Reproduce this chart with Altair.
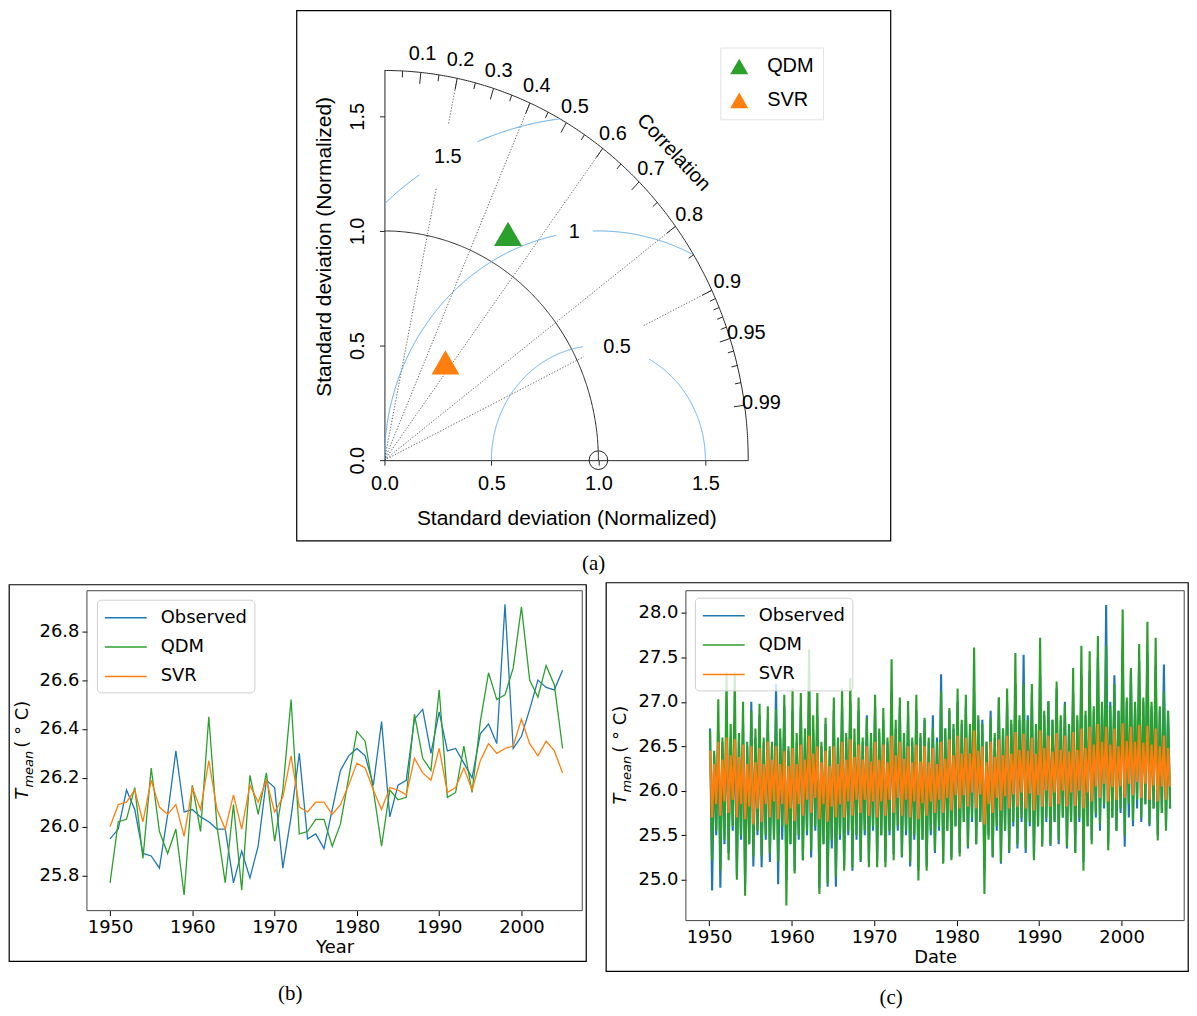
import numpy as np
import pandas as pd
import altair as alt

FONT_A = "Liberation Sans"
FONT_B = "DejaVu Sans"
FONT_CAP = "Liberation Serif"
BLUE, ORANGE, GREEN = "#1f77b4", "#ff7f0e", "#2ca02c"
INK = "#262626"
RMS_COLOR = "#5aa9e6"

# ---------------- (a) Taylor diagram values ----------------
taylor_models = ["QDM", "SVR"]
taylor_std = [1.144, 0.513]
taylor_corr = [0.505, 0.556]
taylor_colors = [GREEN, ORANGE]
corr_labels = [0.1, 0.2, 0.3, 0.4, 0.5, 0.6, 0.7, 0.8, 0.9, 0.95, 0.99]
corr_minor = [0.05, 0.15, 0.25, 0.35, 0.45, 0.55, 0.65, 0.75, 0.85,
              0.91, 0.92, 0.93, 0.94, 0.96, 0.97, 0.98]
corr_lines = [0.2, 0.4, 0.6, 0.8, 0.9]
std_arcs = [1.0, 1.7]
std_ticks = [0.0, 0.5, 1.0, 1.5]
rms_levels = [0.5, 1.0, 1.5]
rms_texts = ["0.5", "1", "1.5"]
rms_label_angle = [80.0, 96.5, 118.0]
rms_gap_px = [34, 18, 33]
SMAX = 1.7

# ---------------- (b) annual values ----------------
series_names = ["Observed", "QDM", "SVR"]
series_colors = [BLUE, GREEN, ORANGE]
years_b = list(range(1950, 2006))
obs_b = [25.95, 25.99, 26.15, 26.07, 25.89, 25.88, 25.83, 26.05, 26.31, 26.06,
         26.07, 26.04, 26.02, 25.99, 25.99, 25.77, 25.90, 25.79, 25.92, 26.19,
         26.16, 25.83, 26.04, 26.30, 25.95, 25.97, 25.91, 26.07, 26.23, 26.29,
         26.32, 26.29, 26.17, 26.43, 26.04, 26.17, 26.19, 26.44, 26.48, 26.30,
         26.47, 26.31, 26.32, 26.26, 26.20, 26.38, 26.42, 26.34, 26.91, 26.32,
         26.37, 26.48, 26.60, 26.57, 26.56, 26.64]
qdm_b = [25.77, 26.02, 26.03, 26.16, 25.87, 26.24, 25.98, 25.89, 25.99, 25.72,
         26.17, 25.98, 26.45, 26.00, 25.77, 26.09, 25.74, 26.21, 26.05, 26.22,
         25.94, 26.15, 26.52, 25.97, 25.98, 26.03, 26.03, 25.92, 26.01, 26.20,
         26.39, 26.35, 26.15, 25.92, 26.15, 26.11, 26.12, 26.46, 26.28, 26.23,
         26.56, 26.12, 26.14, 26.33, 26.14, 26.43, 26.63, 26.52, 26.54, 26.65,
         26.90, 26.60, 26.53, 26.66, 26.58, 26.32]
svr_b = [26.00, 26.09, 26.10, 26.15, 26.02, 26.19, 26.08, 26.05, 26.09, 25.96,
         26.16, 26.07, 26.27, 26.07, 25.99, 26.13, 25.99, 26.17, 26.10, 26.19,
         26.06, 26.12, 26.29, 26.08, 26.06, 26.10, 26.10, 26.05, 26.09, 26.17,
         26.26, 26.24, 26.15, 26.07, 26.16, 26.15, 26.13, 26.28, 26.22, 26.19,
         26.32, 26.14, 26.16, 26.24, 26.15, 26.27, 26.34, 26.30, 26.32, 26.33,
         26.44, 26.34, 26.29, 26.35, 26.31, 26.22]
year_ticks = [1950, 1960, 1970, 1980, 1990, 2000]
ticks_b = [25.8, 26.0, 26.2, 26.4, 26.6, 26.8]

# ---------------- (c) sub-annual values (4 readings per year) ----------------
years_c = list(range(1950, 2006))
obs_c = [
    26.70, 24.88, 26.40, 25.50,  26.65, 24.91, 26.55, 25.40,   # 1950-51
    26.90, 25.30, 26.60, 25.55,  26.80, 25.05, 26.55, 25.45,   # 1952-53
    26.75, 24.95, 26.50, 25.40,  27.00, 25.15, 26.60, 25.50,   # 1954-55
    26.85, 25.14, 26.55, 25.45,  26.80, 25.20, 26.50, 25.50,   # 1956-57
    27.20, 24.95, 26.60, 25.45,  26.95, 25.00, 26.45, 25.40,   # 1958-59
    26.90, 25.10, 26.55, 25.45,  26.95, 25.22, 26.60, 25.50,   # 1960-61
    27.10, 25.25, 26.70, 25.55,  26.85, 24.90, 26.50, 25.40,   # 1962-63
    26.75, 24.92, 26.45, 25.35,  26.90, 24.92, 26.55, 25.45,   # 1964-65
    26.95, 25.15, 26.60, 25.50,  27.00, 25.10, 26.55, 25.45,   # 1966-67
    26.90, 25.20, 26.55, 25.50,  26.85, 25.20, 26.60, 25.55,   # 1968-69
    26.95, 25.22, 26.65, 25.50,  26.80, 25.20, 26.55, 25.50,   # 1970-71
    27.10, 25.28, 26.70, 25.55,  26.95, 25.25, 26.60, 25.50,   # 1972-73
    26.85, 25.15, 26.55, 25.45,  26.90, 25.10, 26.60, 25.45,   # 1974-75
    26.80, 25.15, 26.55, 25.50,  26.85, 25.30, 26.60, 25.55,   # 1976-77
    27.31, 25.20, 26.70, 25.55,  26.90, 25.25, 26.70, 25.60,   # 1978-79
    27.00, 25.30, 26.75, 25.65,  26.95, 25.35, 26.70, 25.65,   # 1980-81
    27.10, 25.40, 26.80, 25.65,  26.80, 25.10, 26.55, 25.50,   # 1982-83
    26.90, 25.25, 26.60, 25.55,  27.05, 25.18, 26.70, 25.55,   # 1984-85
    27.00, 25.30, 26.75, 25.60,  27.20, 25.35, 26.80, 25.65,   # 1986-87
    27.53, 25.30, 26.85, 25.60,  27.10, 25.25, 26.75, 25.60,   # 1988-89
    27.30, 25.40, 26.85, 25.65,  27.00, 25.38, 26.80, 25.65,   # 1990-91
    27.15, 25.40, 26.80, 25.70,  27.00, 25.35, 26.75, 25.65,   # 1992-93
    27.10, 25.30, 26.80, 25.65,  27.30, 25.20, 26.85, 25.60,   # 1994-95
    27.35, 25.45, 26.90, 25.70,  27.50, 25.55, 26.95, 25.80,   # 1996-97
    28.09, 25.40, 27.00, 25.70,  27.30, 25.55, 26.90, 25.75,   # 1998-99
    27.60, 25.37, 27.00, 25.70,  27.35, 25.60, 26.95, 25.80,   # 2000-01
    27.45, 25.65, 27.00, 25.85,  27.55, 25.60, 26.95, 25.80,   # 2002-03
    27.40, 25.50, 26.90, 25.75,  27.42, 25.60, 26.90, 25.80,   # 2004-05
]
qdm_c = [
    26.67, 25.22, 26.45, 25.55,  27.03, 25.10, 26.60, 25.45,   # 1950-51
    27.33, 25.22, 26.75, 25.60,  27.33, 25.00, 26.65, 25.50,   # 1952-53
    27.00, 24.82, 26.55, 25.40,  26.90, 25.26, 26.70, 25.55,   # 1954-55
    26.98, 25.26, 26.60, 25.50,  26.95, 25.30, 26.55, 25.45,   # 1956-57
    26.92, 25.20, 26.70, 25.60,  27.08, 24.71, 26.50, 25.40,   # 1958-59
    27.15, 25.07, 26.65, 25.50,  27.10, 25.22, 26.70, 25.55,   # 1960-61
    27.59, 25.33, 26.85, 25.60,  27.10, 24.84, 26.55, 25.40,   # 1962-63
    26.82, 24.96, 26.50, 25.45,  27.05, 25.03, 26.60, 25.50,   # 1964-65
    27.15, 25.10, 26.65, 25.55,  27.27, 25.14, 26.70, 25.50,   # 1966-67
    27.05, 25.22, 26.60, 25.55,  26.82, 25.14, 26.65, 25.60,   # 1968-69
    27.08, 25.14, 26.70, 25.50,  26.93, 25.14, 26.60, 25.55,   # 1970-71
    27.48, 25.22, 26.80, 25.60,  27.05, 25.26, 26.65, 25.55,   # 1972-73
    27.01, 25.20, 26.60, 25.50,  27.08, 24.99, 26.65, 25.45,   # 1974-75
    26.82, 25.10, 26.60, 25.55,  26.71, 25.33, 26.55, 25.60,   # 1976-77
    27.12, 25.18, 26.70, 25.55,  26.93, 25.22, 26.75, 25.60,   # 1978-79
    27.15, 25.26, 26.80, 25.65,  27.08, 25.37, 26.75, 25.70,   # 1980-81
    27.61, 25.40, 26.85, 25.65,  26.75, 24.84, 26.55, 25.45,   # 1982-83
    26.82, 25.26, 26.65, 25.60,  27.05, 25.20, 26.70, 25.55,   # 1984-85
    27.15, 25.33, 26.80, 25.65,  27.55, 25.40, 26.85, 25.70,   # 1986-87
    27.20, 25.35, 26.80, 25.65,  27.20, 25.22, 26.75, 25.60,   # 1988-89
    27.72, 25.37, 26.90, 25.70,  27.01, 25.40, 26.80, 25.65,   # 1990-91
    27.23, 25.45, 26.85, 25.70,  26.97, 25.37, 26.75, 25.65,   # 1992-93
    27.38, 25.30, 26.85, 25.70,  27.63, 25.10, 26.90, 25.60,   # 1994-95
    27.57, 25.40, 26.95, 25.75,  27.74, 25.63, 27.00, 25.85,   # 1996-97
    27.63, 25.33, 26.95, 25.70,  27.20, 25.55, 26.90, 25.80,   # 1998-99
    28.04, 25.50, 27.05, 25.85,  27.38, 25.67, 27.00, 25.90,   # 2000-01
    27.65, 25.70, 27.05, 25.85,  27.90, 25.63, 27.00, 25.80,   # 2002-03
    27.72, 25.44, 26.95, 25.75,  27.12, 25.55, 26.90, 25.80,   # 2004-05
]
svr_c = [
    26.45, 25.70, 26.30, 25.85,  26.55, 25.72, 26.35, 25.88,   # 1950-51
    26.60, 25.75, 26.40, 25.90,  26.58, 25.70, 26.38, 25.85,   # 1952-53
    26.52, 25.68, 26.30, 25.82,  26.50, 25.62, 26.32, 25.80,   # 1954-55
    26.48, 25.65, 26.30, 25.85,  26.55, 25.70, 26.35, 25.88,   # 1956-57
    26.50, 25.68, 26.30, 25.85,  26.45, 25.62, 26.28, 25.80,   # 1958-59
    26.48, 25.66, 26.30, 25.85,  26.52, 25.72, 26.35, 25.90,   # 1960-61
    26.62, 25.75, 26.42, 25.92,  26.50, 25.68, 26.32, 25.85,   # 1962-63
    26.45, 25.65, 26.28, 25.82,  26.50, 25.70, 26.30, 25.85,   # 1964-65
    26.55, 25.70, 26.35, 25.88,  26.58, 25.72, 26.38, 25.90,   # 1966-67
    26.52, 25.75, 26.35, 25.90,  26.50, 25.72, 26.33, 25.88,   # 1968-69
    26.55, 25.70, 26.35, 25.88,  26.52, 25.72, 26.32, 25.90,   # 1970-71
    26.62, 25.75, 26.40, 25.92,  26.55, 25.72, 26.36, 25.90,   # 1972-73
    26.50, 25.70, 26.32, 25.88,  26.52, 25.68, 26.33, 25.86,   # 1974-75
    26.50, 25.72, 26.32, 25.88,  26.48, 25.75, 26.30, 25.90,   # 1976-77
    26.55, 25.75, 26.36, 25.92,  26.58, 25.78, 26.40, 25.95,   # 1978-79
    26.62, 25.80, 26.42, 25.95,  26.60, 25.82, 26.42, 25.98,   # 1980-81
    26.68, 25.80, 26.45, 25.96,  26.50, 25.62, 26.32, 25.85,   # 1982-83
    26.55, 25.75, 26.38, 25.92,  26.58, 25.78, 26.40, 25.94,   # 1984-85
    26.62, 25.80, 26.42, 25.96,  26.66, 25.82, 26.46, 25.98,   # 1986-87
    26.64, 25.80, 26.45, 25.97,  26.60, 25.78, 26.42, 25.95,   # 1988-89
    26.68, 25.82, 26.48, 26.00,  26.62, 25.82, 26.44, 25.98,   # 1990-91
    26.65, 25.85, 26.46, 26.00,  26.62, 25.82, 26.44, 25.98,   # 1992-93
    26.66, 25.83, 26.46, 26.00,  26.70, 25.80, 26.48, 25.98,   # 1994-95
    26.72, 25.88, 26.52, 26.05,  26.75, 25.92, 26.55, 26.08,   # 1996-97
    26.72, 25.88, 26.52, 26.04,  26.70, 25.90, 26.50, 26.05,   # 1998-99
    26.76, 25.92, 26.56, 26.08,  26.72, 25.95, 26.55, 26.10,   # 2000-01
    26.74, 25.92, 26.54, 26.08,  26.73, 25.90, 26.52, 26.06,   # 2002-03
    26.70, 25.88, 26.50, 26.05,  26.62, 25.90, 26.48, 26.05,   # 2004-05
]
ticks_c = [25.0, 25.5, 26.0, 26.5, 27.0, 27.5, 28.0]

# =====================================================================
# (a) Taylor diagram
# =====================================================================
WA, HA = 365, 391
SX, SY = WA / SMAX, HA / SMAX
lab_x = [1 + r * np.cos(np.radians(a)) for r, a in zip(rms_levels, rms_label_angle)]
lab_y = [r * np.sin(np.radians(a)) for r, a in zip(rms_levels, rms_label_angle)]


def runs(xs, ys, name):
    keep = np.ones(len(xs), bool)
    for lx, ly, g in zip(lab_x, lab_y, rms_gap_px):
        keep &= np.hypot((xs - lx) * SX, (ys - ly) * SY) > g
    rows, seg, prev = [], 0, False
    for i in range(len(xs)):
        if keep[i]:
            if not prev:
                seg += 1
            rows.append({"x": xs[i], "y": ys[i], "seg": f"{name}-{seg}", "o": i})
        prev = keep[i]
    return rows


arc_rows = []
for r in std_arcs:
    th = np.linspace(0, np.pi / 2, 300)
    for i, t in enumerate(th):
        arc_rows.append({"x": r * np.cos(t), "y": r * np.sin(t), "seg": f"arc{r}", "o": i})
arcs_df = pd.DataFrame(arc_rows)

rms_rows = []
for r in rms_levels:
    th = np.linspace(0, np.pi, 900)
    xs, ys = 1 + r * np.cos(th), r * np.sin(th)
    m = (xs >= 0) & (ys >= 0) & (xs ** 2 + ys ** 2 <= SMAX ** 2)
    rms_rows += runs(xs[m], ys[m], f"rms{r}")
rms_df = pd.DataFrame(rms_rows)

cl_rows = []
for c in corr_lines:
    rr = np.linspace(0, SMAX, 400)
    cl_rows += runs(rr * c, rr * np.sqrt(1 - c * c), f"c{c}")
cl_df = pd.DataFrame(cl_rows)

tick_rows = []
for c in corr_labels:
    tick_rows.append({"c": c, "L": 0.05})
for c in corr_minor:
    tick_rows.append({"c": c, "L": 0.028})
ticks_df = pd.DataFrame(tick_rows)
ticks_df["x"] = SMAX * ticks_df.c
ticks_df["y"] = SMAX * np.sqrt(1 - ticks_df.c ** 2)
ticks_df["x2"] = (SMAX - ticks_df.L) * ticks_df.c
ticks_df["y2"] = (SMAX - ticks_df.L) * np.sqrt(1 - ticks_df.c ** 2)

clab_df = pd.DataFrame({"c": corr_labels})
clab_df["x"] = 1.78 * clab_df.c
clab_df["y"] = 1.78 * np.sqrt(1 - clab_df.c ** 2)
clab_df["t"] = [f"{c:g}" for c in corr_labels]

rlab_df = pd.DataFrame({"x": lab_x, "y": lab_y, "t": rms_texts})

sc = alt.Scale(domain=[0, SMAX], nice=False, zero=False)
XA = alt.X("x:Q", scale=sc, axis=None)
YA = alt.Y("y:Q", scale=sc, axis=None)
one = pd.DataFrame({"a": [0]})

frame_a = alt.Chart(one).mark_rect(fillOpacity=0, stroke="black", strokeWidth=1.2).encode(
    x=alt.value(-88), x2=alt.value(WA + 143), y=alt.value(-60), y2=alt.value(HA + 81))

arcs_layer = alt.Chart(arcs_df).mark_line(color=INK, strokeWidth=1).encode(
    x=alt.X("x:Q", scale=sc, axis=alt.Axis(
        values=std_ticks, format=".1f", title="Standard deviation (Normalized)",
        labelFont=FONT_A, labelFontSize=20, labelColor="black", labelPadding=8,
        labelFlush=False, tickColor=INK, tickSize=5, domainColor=INK, grid=False,
        titleFont=FONT_A, titleFontSize=21, titleFontWeight="normal",
        titleColor="black", titlePadding=15)),
    y=alt.Y("y:Q", scale=sc, axis=alt.Axis(
        values=std_ticks, format=".1f", title="", labelAngle=270,
        labelAlign="center", labelBaseline="bottom", labelFlush=False,
        labelFont=FONT_A, labelFontSize=20, labelColor="black", labelPadding=12,
        tickColor=INK, tickSize=5, domainColor=INK, grid=False)),
    detail="seg:N", order="o:Q")

rms_layer = alt.Chart(rms_df).mark_line(color=RMS_COLOR, strokeWidth=1).encode(
    x=XA, y=YA, detail="seg:N", order="o:Q")
cl_layer = alt.Chart(cl_df).mark_line(color=INK, strokeWidth=0.8, strokeDash=[1.2, 1.8]).encode(
    x=XA, y=YA, detail="seg:N", order="o:Q")
ticks_layer = alt.Chart(ticks_df).mark_rule(color=INK, strokeWidth=1).encode(
    x=XA, y=YA, x2="x2:Q", y2="y2:Q")
clab_layer = alt.Chart(clab_df).mark_text(font=FONT_A, fontSize=20, color="black").encode(
    x=XA, y=YA, text="t:N")
corr_title = alt.Chart(pd.DataFrame({"x": [1.905 * np.cos(np.radians(44.8))],
                                     "y": [1.905 * np.sin(np.radians(44.8))]})).mark_text(
    text="Correlation", font=FONT_A, fontSize=20, angle=47, color="black").encode(x=XA, y=YA)
rlab_layer = alt.Chart(rlab_df).mark_text(font=FONT_A, fontSize=20, color="black").encode(
    x=XA, y=YA, text="t:N")
ref_pt = alt.Chart(pd.DataFrame({"x": [1.0], "y": [0.0]})).mark_point(
    shape="circle", size=350, filled=False, color=INK, strokeWidth=1, opacity=1).encode(x=XA, y=YA)
pts = alt.Chart(pd.DataFrame({"model": taylor_models, "std": taylor_std, "corr": taylor_corr})
                ).transform_calculate(
    x="datum.std * datum.corr", y="datum.std * sqrt(1 - datum.corr * datum.corr)"
).mark_point(shape="triangle-up", filled=True, size=784, opacity=1).encode(
    x=XA, y=YA,
    color=alt.Color("model:N", scale=alt.Scale(domain=taylor_models, range=taylor_colors),
                    legend=alt.Legend(orient="none", legendX=337, legendY=-23, title=None,
                                      symbolType="triangle-up", symbolSize=330,
                                      labelFont=FONT_A, labelFontSize=20, labelColor="black",
                                      labelOffset=18, rowPadding=14, padding=9,
                                      strokeColor="#e2e2e2", fillColor="white")))
ytitle_a = alt.Chart(one).mark_text(text="Standard deviation (Normalized)", font=FONT_A,
                                    fontSize=21, angle=270, color="black").encode(
    x=alt.value(-60), y=alt.value(177))
cap_a = alt.Chart(one).mark_text(text="(a)", font=FONT_CAP, fontSize=21, color="black").encode(
    x=alt.value(210), y=alt.value(495))

chart_a = alt.layer(frame_a, arcs_layer, cl_layer, rms_layer, ticks_layer, clab_layer,
                    corr_title, rlab_layer, ref_pt, pts, ytitle_a, cap_a).resolve_axis(
    x="independent", y="independent").properties(width=WA, height=HA)


# =====================================================================
# helpers for (b) and (c)
# =====================================================================
def tmean_title(xc, yc):
    y0 = yc + 49
    common = dict(font=FONT_B, angle=270, align="left", baseline="middle", color="black")
    t1 = alt.Chart(one).mark_text(text="T", fontSize=18, fontStyle="italic", **common).encode(
        x=alt.value(xc), y=alt.value(y0))
    t2 = alt.Chart(one).mark_text(text="mean", fontSize=13, fontStyle="italic", **common).encode(
        x=alt.value(xc + 6), y=alt.value(y0 - 12))
    t3 = alt.Chart(one).mark_text(text="( \u00b0 C)", fontSize=18, **common).encode(
        x=alt.value(xc), y=alt.value(y0 - 52))
    return [t1, t2, t3]


def ax(values, fmt, title):
    return alt.Axis(values=values, format=fmt, title=title, labelFont=FONT_B, labelFontSize=18,
                    labelColor="black", titleFont=FONT_B, titleFontSize=18,
                    titleFontWeight="normal", titleColor="black", tickColor="black",
                    tickSize=5, domain=False, grid=False, labelPadding=3, titlePadding=2,
                    labelFlush=False)


def line_legend(lx, ly):
    return alt.Legend(orient="none", legendX=lx, legendY=ly, title=None,
                      symbolType="M-1,0L3.2,0", symbolSize=400, symbolStrokeWidth=1.5,
                      labelFont=FONT_B, labelFontSize=18, labelColor="black", labelOffset=35,
                      rowPadding=9.5, padding=7, strokeColor="#cfcfcf",
                      fillColor="rgba(255,255,255,0.8)", cornerRadius=4)


color_enc = dict(scale=alt.Scale(domain=series_names, range=series_colors))

# =====================================================================
# (b) annual series
# =====================================================================
WB, HB = 497, 321
df_b = pd.DataFrame({"year": years_b * 3, "value": obs_b + qdm_b + svr_b,
                     "series": sum([[s] * len(years_b) for s in series_names], [])})
frame_b = alt.Chart(one).mark_rect(fillOpacity=0, stroke="black", strokeWidth=1.2).encode(
    x=alt.value(-78), x2=alt.value(WB + 4), y=alt.value(-6), y2=alt.value(HB + 51))
ext_b = alt.Chart(one).mark_rule(strokeOpacity=0).encode(
    y=alt.value(-13), x=alt.value(0), x2=alt.value(10))
box_b = alt.Chart(one).mark_rect(fillOpacity=0, stroke="#444", strokeWidth=1).encode(
    x=alt.value(0), x2=alt.value(WB), y=alt.value(0), y2=alt.value(HB))
lines_b = alt.Chart(df_b).mark_line(strokeWidth=1.3).encode(
    x=alt.X("year:Q", scale=alt.Scale(domain=[1947.19, 2007.39], nice=False, zero=False),
            axis=ax(year_ticks, "d", "Year")),
    y=alt.Y("value:Q", scale=alt.Scale(domain=[25.656, 26.966], nice=False, zero=False),
            axis=ax(ticks_b, ".1f", "")),
    color=alt.Color("series:N", legend=line_legend(10, 9), **color_enc),
    order="year:Q")
cap_b = alt.Chart(one).mark_text(text="(b)", font=FONT_CAP, fontSize=21, color="black").encode(
    x=alt.value(204), y=alt.value(405))
chart_b = alt.layer(frame_b, ext_b, lines_b, box_b, *tmean_title(-64, HB / 2), cap_b).properties(
    width=WB, height=HB)

# =====================================================================
# (c) sub-annual series
# =====================================================================
WC, HC = 500, 331
t_c = [y + (k + 0.5) / 4 for y in years_c for k in range(4)]
df_c = pd.DataFrame({"t": t_c * 3, "value": obs_c + qdm_c + svr_c,
                     "series": sum([[s] * len(t_c) for s in series_names], [])})
frame_c = alt.Chart(one).mark_rect(fillOpacity=0, stroke="black", strokeWidth=1.2).encode(
    x=alt.value(-80), x2=alt.value(WC + 4), y=alt.value(-8), y2=alt.value(HC + 51))
box_c = alt.Chart(one).mark_rect(fillOpacity=0, stroke="#444", strokeWidth=1).encode(
    x=alt.value(0), x2=alt.value(WC), y=alt.value(0), y2=alt.value(HC))
lines_c = alt.Chart(df_c).mark_line(strokeWidth=2.1, strokeJoin="bevel").encode(
    x=alt.X("t:Q", scale=alt.Scale(domain=[1947.2, 2007.585], nice=False, zero=False),
            axis=ax(year_ticks, "d", "Date")),
    y=alt.Y("value:Q", scale=alt.Scale(domain=[24.54, 28.25], nice=False, zero=False),
            axis=ax(ticks_c, ".1f", "")),
    color=alt.Color("series:N", legend=line_legend(9, 7), **color_enc),
    order="t:Q")
cap_c = alt.Chart(one).mark_text(text="(c)", font=FONT_CAP, fontSize=21, color="black").encode(
    x=alt.value(206), y=alt.value(409))
chart_c = alt.layer(frame_c, lines_c, box_c, *tmean_title(-65, HC / 2), cap_c).properties(
    width=WC, height=HC)

row = alt.hconcat(chart_b, chart_c, spacing=18).resolve_scale(
    color="independent").resolve_legend(color="independent")
chart = alt.vconcat(chart_a, row, spacing=4, center=True).resolve_scale(
    color="independent").resolve_legend(color="independent").properties(
    padding=0, background="white").configure_view(strokeWidth=0)

chart.save("out.html", embed_options={"renderer": "svg", "actions": False})
